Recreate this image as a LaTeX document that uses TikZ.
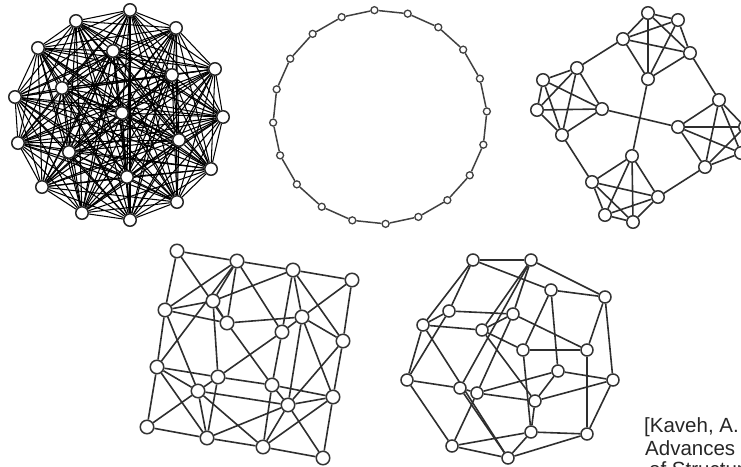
\documentclass[tikz,border=0pt]{standalone}
\usepackage{fontspec}
\setmainfont{Liberation Sans}
\pgfdeclarelayer{bg}
\pgfsetlayers{bg,main}
\begin{document}
\begin{tikzpicture}[x=1pt,y=-1pt,
  vA/.style={circle,draw=black!85,fill=white,line width=1.5pt,inner sep=0pt,minimum size=12.5pt},
  vB/.style={circle,draw=black!75,fill=white,line width=1.3pt,inner sep=0pt,minimum size=7pt},
  vC/.style={circle,draw=black!80,fill=white,line width=1.5pt,inner sep=0pt,minimum size=12.5pt},
  vD/.style={circle,draw=black!80,fill=white,line width=1.5pt,inner sep=0pt,minimum size=13.5pt},
  vE/.style={circle,draw=black!80,fill=white,line width=1.5pt,inner sep=0pt,minimum size=12pt},
  eA/.style={draw=black,line width=1.05pt},
  eB/.style={draw=black!75,line width=1.5pt},
  eC/.style={draw=black!82,line width=1.6pt},
  cite/.style={anchor=base west,inner sep=0pt,text=black!85,font=\fontsize{20.5}{24}\selectfont}]
\useasboundingbox (0,0) rectangle (741,466);

% ---------- graph 1: complete graph on 20 vertices
\foreach \n/\x/\y in {1/130/10,2/176/28,3/215/69,4/223/117,5/211/169,6/177/202,7/130/220,
  8/82/213,9/42/187,10/18/143,11/15/97,12/38/48,13/76/21,
  14/113/51,15/172/75,16/62/88,17/122/113,18/179/140,19/69/152,20/127/177}
  \node[vA] (a\n) at (\x,\y) {};
\begin{pgfonlayer}{bg}
\foreach \i in {1,...,19}{
  \pgfmathtruncatemacro\s{\i+1}
  \foreach \j in {\s,...,20}{\draw[eA] (a\i) -- (a\j);}
}
\end{pgfonlayer}

% ---------- graph 2: cycle on 20 vertices
\foreach \i in {0,...,19}
  \node[vB] (b\i) at ({380+107*cos(93-18*\i)},{117-107*sin(93-18*\i)}) {};
\begin{pgfonlayer}{bg}
\foreach \i in {0,...,19}{
  \pgfmathtruncatemacro\j{mod(\i+1,20)}
  \draw[eB] (b\i) -- (b\j);
}
\end{pgfonlayer}

% ---------- graph 3: four K5 clusters
\foreach \n/\x/\y in {t1/648/13,t2/678/20,t3/623/39,t4/690/53,t5/648/79,
  l1/577/68,l2/543/80,l3/537/110,l4/602/109,l5/562/135,
  r1/719/100,r2/678/127,r3/745/127,r4/741/153,r5/705/167,
  d1/632/156,d2/592/182,d3/658/197,d4/605/215,d5/633/222}
  \node[vC] (\n) at (\x,\y) {};
\begin{pgfonlayer}{bg}
\foreach \c in {t,l,r,d}{
  \foreach \i/\j in {1/2,1/3,1/4,1/5,2/3,2/4,2/5,3/4,3/5,4/5}
    \draw[eC] (\c\i) -- (\c\j);
}
\foreach \p/\q in {t3/l1,t4/r1,t5/d1,l4/r2,l5/d2,d3/r5}
  \draw[eC] (\p) -- (\q);
\end{pgfonlayer}

% ---------- graph 4
\foreach \n/\x/\y in {1/177/251,2/237/261,3/293/270,4/352/280,5/165/310,6/213/301,
  7/227/323,8/302/317,9/282/332,10/343/341,11/157/367,12/218/377,13/198/391,
  14/272/385,15/288/405,16/333/397,17/147/427,18/207/438,19/263/447,20/323/458}
  \node[vD] (p\n) at (\x,\y) {};
\begin{pgfonlayer}{bg}
\foreach \i/\j in {1/2,2/3,3/4,1/5,1/7,2/5,2/6,2/7,2/9,2/11,3/6,3/8,3/9,3/10,
  4/8,4/10,5/6,5/7,5/11,5/13,6/7,6/12,7/8,7/14,8/9,8/10,8/15,8/16,9/12,9/14,
  10/15,10/16,11/12,11/13,11/17,11/18,12/13,12/14,12/18,13/15,13/17,13/18,13/19,
  14/15,14/16,14/19,15/16,15/18,15/19,15/20,16/19,16/20,17/18,18/19,19/20}
  \draw[eC] (p\i) -- (p\j);
\end{pgfonlayer}

% ---------- graph 5
\foreach \n/\x/\y in {1/473/260,2/531/260,3/551/290,4/605/297,5/449/311,6/513/314,
  7/423/325,8/482/330,9/523/350,10/587/350,11/558/371,12/613/380,13/407/380,
  14/460/388,15/477/393,16/535/401,17/531/432,18/587/434,19/452/446,20/508/458}
  \node[vE] (q\n) at (\x,\y) {};
\begin{pgfonlayer}{bg}
\foreach \i/\j in {1/2,1/3,2/4,3/4,1/7,1/5,2/8,2/6,2/14,3/11,3/9,4/10,4/12,
  5/6,5/7,5/13,6/8,6/10,6/15,7/8,7/13,7/20,8/9,8/16,9/10,9/17,10/18,
  11/12,11/15,11/16,12/16,12/18,13/14,13/19,14/15,14/20,15/16,15/19,16/17,
  17/18,17/19,17/20,18/20,19/20}
  \draw[eC] (q\i) -- (q\j);
\end{pgfonlayer}

% ---------- citation
\node[cite] (c1) at (644,432.5) {[Kaveh, A.};
\node[cite] (c2) at (645,455.5) {Advances};
\node[cite] (c3) at (649,476) {of Structures};
\end{tikzpicture}
\end{document}
